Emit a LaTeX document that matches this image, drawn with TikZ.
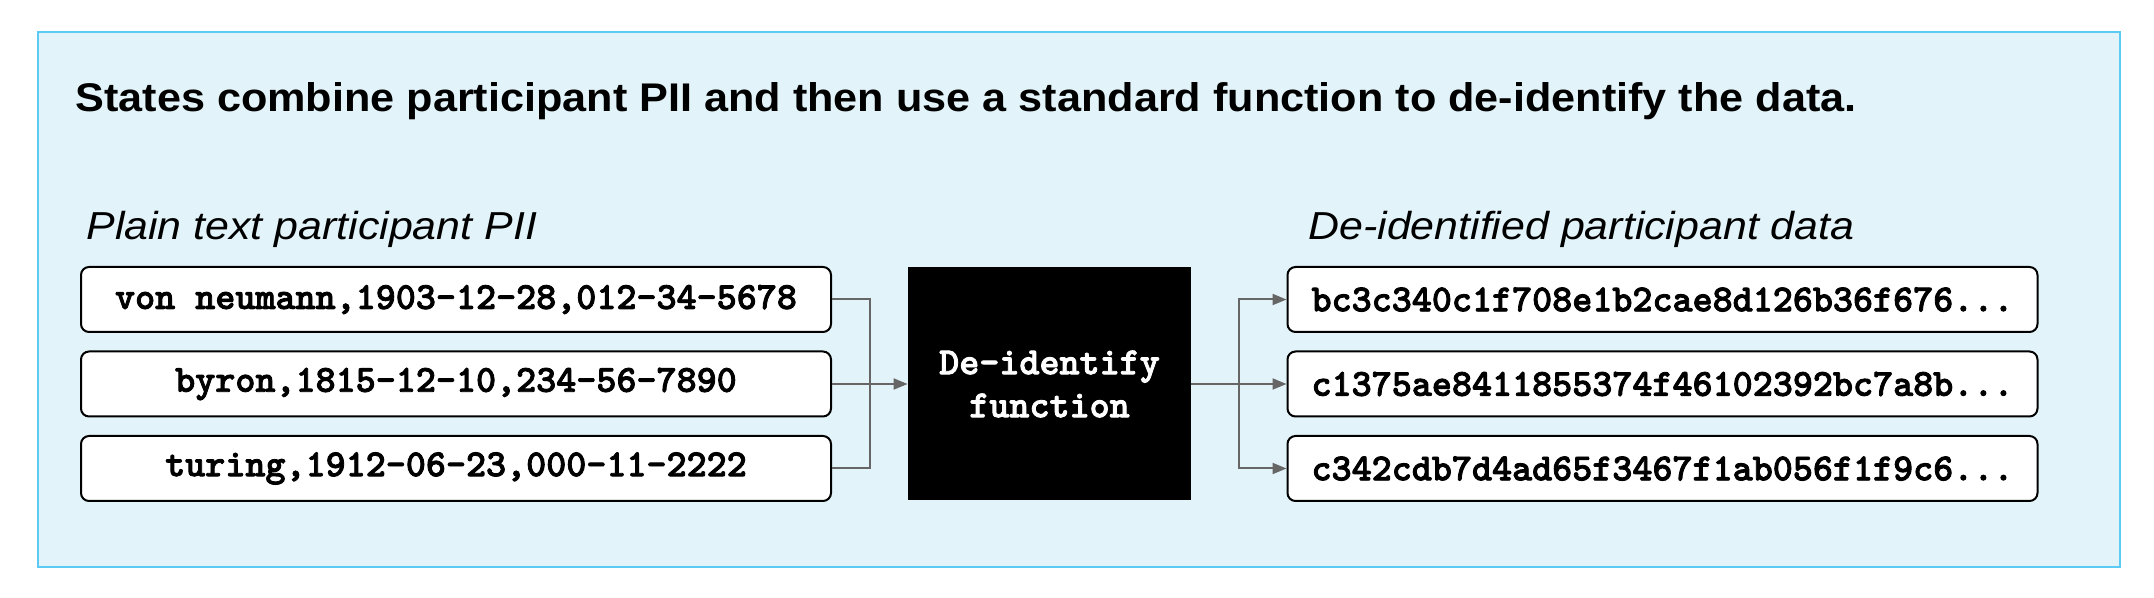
\documentclass[tikz,border=0pt]{standalone}
\usepackage{fontspec}
\setmainfont{Liberation Sans}
\newfontfamily\titlefont[FakeStretch=1.08]{Liberation Sans Bold}
\newfontfamily\labelfont[FakeStretch=1.1]{Liberation Sans Italic}
\newfontfamily\codefont[FakeBold=2.2]{lmmonolt10-bold.otf}
\usetikzlibrary{arrows.meta}
\definecolor{panelfill}{HTML}{E2F4F9}
\definecolor{panelline}{HTML}{5BCBF5}
\definecolor{linkgray}{HTML}{666666}
\tikzset{
  databox/.style={draw=black, line width=1pt, fill=white, rounded corners=4pt,
    minimum width=375pt, minimum height=32.5pt, inner sep=0pt,
    font=\codefont\fontsize{19.1}{20}\selectfont},
  funcbox/.style={draw=none, fill=black, text=white, minimum width=141.5pt,
    minimum height=116.5pt, inner sep=0pt, align=center,
    font=\codefont\fontsize{19.1}{21.5}\selectfont},
  link/.style={draw=linkgray, line width=1pt},
  linkarrow/.style={link, -{Triangle[length=7pt,width=5.5pt]}},
  titletext/.style={anchor=base west, inner sep=0pt, font=\titlefont\fontsize{20}{24}\selectfont},
  labeltext/.style={anchor=base west, inner sep=0pt, font=\labelfont\fontsize{19.5}{22}\selectfont}
}
\begin{document}
\begin{tikzpicture}[x=0.5pt,y=-0.5pt]
\useasboundingbox (0,0) rectangle (2154,598);
\draw[fill=panelfill, draw=panelline, line width=1.2pt] (38,32) rectangle (2120,567);
\node[titletext] (title) at (75,112) {States combine participant PII and then use a standard function to de-identify the data.};
\node[labeltext] (lblL) at (86,240) {Plain text participant PII};
\node[labeltext] (lblR) at (1308,240) {De-identified participant data};

\node[databox] (l1) at (456,299.5) {von neumann,1903-12-28,012-34-5678};
\node[databox] (l2) at (456,384) {byron,1815-12-10,234-56-7890};
\node[databox] (l3) at (456,468.5) {turing,1912-06-23,000-11-2222};

\node[funcbox] (fn) at (1049.5,384) {De-identify\\function};

\node[databox] (r1) at (1662.5,299.5) {bc3c340c1f708e1b2cae8d126b36f676...};
\node[databox] (r2) at (1662.5,384) {c1375ae8411855374f46102392bc7a8b...};
\node[databox] (r3) at (1662.5,468.5) {c342cdb7d4ad65f3467f1ab056f1f9c6...};

\coordinate (jL) at (870,384);
\coordinate (jR) at (1239,384);
\draw[link] (l1.east) -| (jL);
\draw[link] (l3.east) -| (jL);
\draw[linkarrow] (l2.east) -- (fn.west);
\draw[link] (fn.east) -- (jR);
\draw[linkarrow] (jR) |- (r1.west);
\draw[linkarrow] (jR) -- (r2.west);
\draw[linkarrow] (jR) |- (r3.west);
\end{tikzpicture}
\end{document}
